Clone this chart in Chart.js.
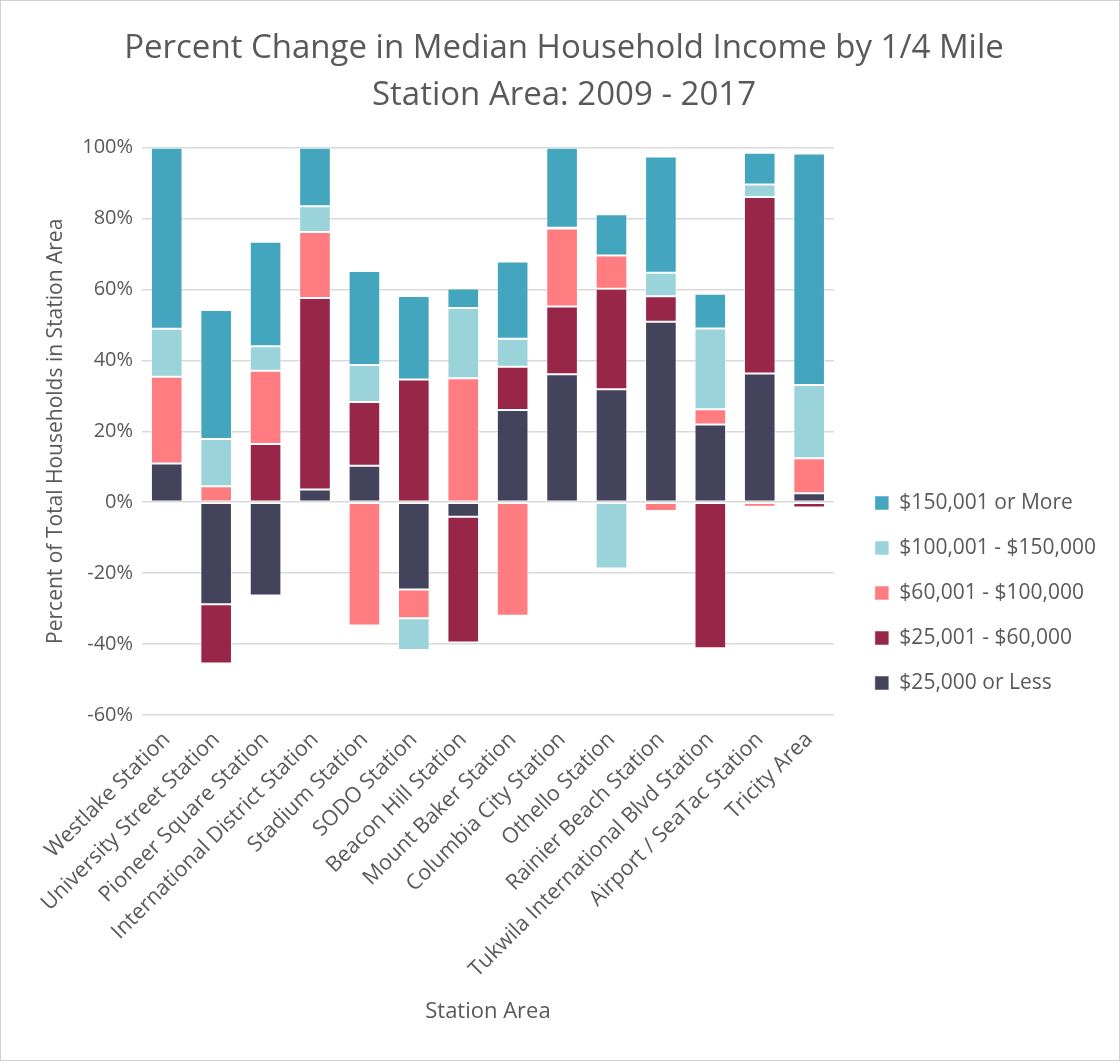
<!DOCTYPE html>
<html>
<head>
<meta charset="utf-8">
<script src="https://cdn.jsdelivr.net/npm/chart.js"></script>
<style>
  html, body { margin: 0; padding: 0; background: #fff; }
  #wrap { width: 1118px; height: 1059px; border: 1px solid #d0d0d0; position: relative; }
</style>
</head>
<body>
<div id="wrap"><canvas id="chart"></canvas></div>
<script>
  // station areas (x categories)
  const stations = [
    'Westlake Station', 'University Street Station', 'Pioneer Square Station',
    'International District Station', 'Stadium Station', 'SODO Station',
    'Beacon Hill Station', 'Mount Baker Station', 'Columbia City Station',
    'Othello Station', 'Rainier Beach Station', 'Tukwila International Blvd Station',
    'Airport / SeaTac Station', 'Tricity Area'
  ];

  // percent change by income bracket
  const lessThan25k   = [10.9, -28.8, -26.3, 3.6, 10.3, -24.6, -4.1, 26.0, 36.1, 31.9, 50.9, 21.9, 36.3, 2.5];
  const from25to60k   = [0,    -16.7, 16.4, 54.0, 18.0, 34.6, -35.5, 12.2, 19.1, 28.3, 7.2, -41.2, 49.8, -1.5];
  const from60to100k  = [24.5, 4.5,   20.7, 18.6, -34.8, -8.1, 35.0, -32.0, 22.0, 9.4, -2.5, 4.3, -1.3, 9.9];
  const from100to150k = [13.5, 13.3,  6.9,  7.3,  10.4, -9.0, 19.8, 7.9, 0.2, -18.7, 6.6, 22.8, 3.5, 20.7];
  const over150k      = [51.1, 36.4,  29.5, 16.5, 26.5, 23.6, 5.5, 21.8, 22.6, 11.6, 32.8, 9.8, 9.0, 65.3];

  const yTicks = [-60, -40, -20, 0, 20, 40, 60, 80, 100];

  const FONT = '"Open Sans", "Noto Sans", sans-serif';
  const GREY = '#595959';

  function ds(label, data, color) {
    return {
      label, data, backgroundColor: color,
      borderColor: 'rgba(255,255,255,0.5)', borderWidth: 1, borderSkipped: false,
      barPercentage: 0.64, categoryPercentage: 1.0
    };
  }

  // Excel puts the legend lower and a bit further from the plot than Chart.js does
  const legendShift = {
    id: 'legendShift',
    afterLayout(chart) {
      const l = chart.legend;
      if (!l) return;
      l.left += 17; l.right += 17;
      l.top += 66; l.bottom += 66;
    }
  };

  new Chart(document.getElementById('chart'), {
    type: 'bar',
    data: {
      labels: stations,
      datasets: [
        ds('$25,000 or Less', lessThan25k, '#43435B'),
        ds('$25,001 - $60,000', from25to60k, '#982649'),
        ds('$60,001 - $100,000', from60to100k, '#FF7C80'),
        ds('$100,001 - $150,000', from100to150k, '#9AD3DA'),
        ds('$150,001 or More', over150k, '#43A5BE')
      ]
    },
    plugins: [legendShift],
    options: {
      responsive: true,
      maintainAspectRatio: false,
      animation: false,
      layout: { padding: { left: 38, right: 30, top: 24, bottom: 31 } },
      plugins: {
        title: {
          display: true,
          text: ['Percent Change in Median Household Income by 1/4 Mile', 'Station Area: 2009 - 2017'],
          color: GREY,
          font: { family: FONT, size: 33, weight: 'normal', lineHeight: 1.42 },
          padding: { top: 0, bottom: 29 }
        },
        legend: {
          position: 'right',
          reverse: true,
          labels: {
            color: GREY,
            font: { family: FONT, size: 21 },
            boxWidth: 14, boxHeight: 14,
            padding: 24
          }
        },
        tooltip: { enabled: false }
      },
      scales: {
        x: {
          stacked: true,
          grid: { display: false },
          border: { display: false },
          ticks: {
            color: GREY, font: { family: FONT, size: 21.5 },
            maxRotation: 45, minRotation: 45, autoSkip: false, padding: 4
          },
          title: {
            display: true, text: 'Station Area', color: GREY,
            font: { family: FONT, size: 22 }, padding: { top: 12 }
          }
        },
        y: {
          stacked: true,
          min: -60, max: 100,
          afterBuildTicks: axis => { axis.ticks = yTicks.map(v => ({ value: v })); },
          grid: { color: '#d9d9d9', lineWidth: 1.5, drawTicks: false },
          border: { display: false },
          ticks: {
            color: GREY, font: { family: FONT, size: 20 }, padding: 9,
            callback: v => v + '%'
          },
          title: {
            display: true, text: 'Percent of Total Households in Station Area', color: GREY,
            font: { family: FONT, size: 21 }, padding: { top: 4, bottom: 5 }
          }
        }
      }
    }
  });
</script>
</body>
</html>
